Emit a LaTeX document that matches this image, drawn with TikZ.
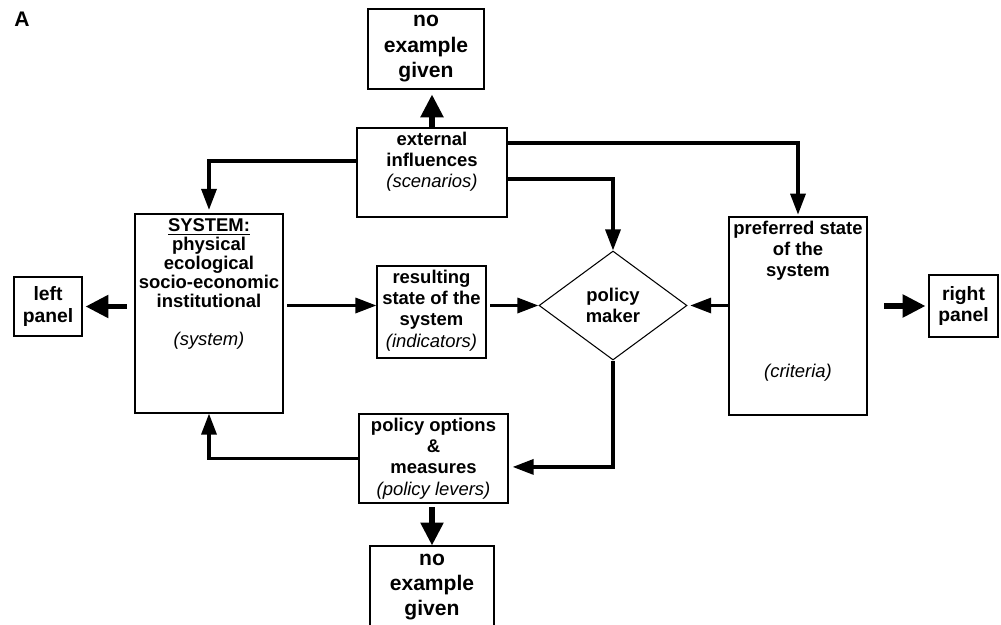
\documentclass[tikz,border=0pt]{standalone}
\usepackage{fontspec}
\setsansfont{Liberation Sans}
\usetikzlibrary{arrows.meta,shapes.geometric}
\tikzstyle{box} = [draw, line width=0.6pt, inner sep=0pt, font=\sffamily\bfseries\fontsize{10.5}{12}\selectfont]
\tikzstyle{panel} = [box, align=center, font=\sffamily\bfseries\fontsize{11}{12.5}\selectfont]
\tikzstyle{arrow} = [line width=2pt, -{Triangle[length=12pt,width=8.5pt]}]
\tikzstyle{bigarrow} = [line width=3pt, -{Triangle[length=13pt,width=12.5pt]}]
\newcommand{\ital}[1]{{\mdseries\itshape #1}}
\newcommand{\boxtext}[3]{\parbox[c][#2][t]{#1}{\lineskiplimit=-4pt\centering\vspace*{2.5pt}#3}}

\begin{document}
\begin{tikzpicture}[x=0.02cm, y=-0.02cm, font=\sffamily]
  \useasboundingbox (0,0) rectangle (1001,625);

  \node[font=\sffamily\bfseries\fontsize{12}{14}\selectfont] (lbl) at (22,19) {A};

  % boxes
  \node[panel, minimum width=2.32cm, minimum height=1.6cm,
        font=\sffamily\bfseries\fontsize{12}{14.5}\selectfont] (topno) at (426,49) {no\\example\\given};
  \node[box] (ext) at (432,172.5) {\boxtext{3.0cm}{1.78cm}{external\\influences\\\ital{(scenarios)}}};
  \node[box, font=\sffamily\bfseries\fontsize{10.5}{10.9}\selectfont] (sys) at (209,313.5)
        {\boxtext{2.96cm}{3.98cm}{\underline{SYSTEM:}\\physical\\ecological\\socio-economic\\institutional\\[10.5pt]\ital{(system)}}};
  \node[panel, minimum width=1.36cm, minimum height=1.18cm] (left) at (48,306.5) {left\\panel};
  \node[box] (res) at (431.5,312) {\boxtext{2.18cm}{1.84cm}{resulting\\state of the\\system\\\ital{(indicators)}}};
  \node[diamond, draw, line width=0.6pt, inner sep=0pt, minimum width=2.96cm, minimum height=2.18cm,
        align=center, font=\sffamily\bfseries\fontsize{10.5}{12}\selectfont] (pm) at (613,305.5) {policy\\maker};
  \node[box] (pref) at (798,316) {\boxtext{2.76cm}{3.96cm}{preferred state\\of the\\system\\[45.5pt]\ital{(criteria)}}};
  \node[panel, minimum width=1.38cm, minimum height=1.24cm] (right) at (963.5,306) {right\\panel};
  \node[box] (opt) at (433.5,458.5) {\boxtext{2.98cm}{1.78cm}{policy options\\\&\\measures\\\ital{(policy levers)}}};
  \node[panel, minimum width=2.48cm, minimum height=1.64cm,
        font=\sffamily\bfseries\fontsize{12}{14}\selectfont] (botno) at (432,587) {no\\example\\given};

  % connectors
  \draw[bigarrow, shorten >=2.8pt] (ext.north) -- (ext.north |- topno.south);
  \draw[arrow, shorten >=2pt] ([yshift=6.5pt]ext.west) -| (sys.north);
  \draw[arrow] ([yshift=-3.7pt]ext.east) -| (pm.north);
  \draw[arrow, shorten >=1pt] ([yshift=16.8pt]ext.east) -| (pref.north);
  \draw[arrow, shorten <=2pt] (sys.east |- pm.west) -- (res.west |- pm.west);
  \draw[arrow, shorten <=2pt] (res.east |- pm.west) -- (pm.west);
  \draw[arrow, shorten >=1.5pt] (pref.west |- pm.east) -- (pm.east);
  \draw[bigarrow, shorten <=4.5pt, shorten >=1.7pt] (sys.west |- left.east) -- (left.east);
  \draw[bigarrow, shorten <=9.5pt, shorten >=1.7pt] (pref.east |- right.west) -- (right.west);
  \draw[arrow, shorten >=2.3pt] (pm.south) |- ([yshift=-4.8pt]opt.east);
  \draw[arrow] (opt.west) -| (sys.south);
  \draw[bigarrow, shorten <=2pt] (opt.south -| botno.north) -- (botno.north);
\end{tikzpicture}
\end{document}
